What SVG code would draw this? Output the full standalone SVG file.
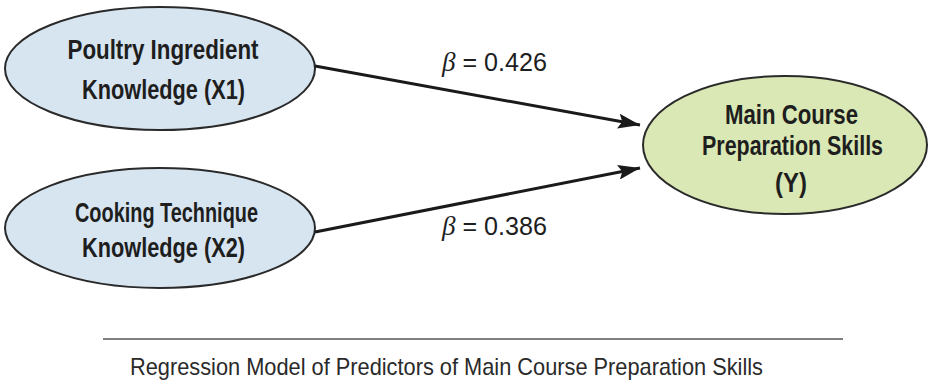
<svg xmlns="http://www.w3.org/2000/svg" width="929" height="385" viewBox="0 0 929 385">
<defs>
<marker id="ah" viewBox="0 0 22 15" refX="22" refY="7.5" markerWidth="22" markerHeight="15" markerUnits="userSpaceOnUse" orient="auto">
<path d="M0,0 L22,7.5 L0,15 L4,7.5 Z" fill="#1a1a1a"/>
</marker>
<style>
.pred{fill:#d7e5f1;stroke:#2a2a2a;stroke-width:2}
.out{fill:#d9e8b4;stroke:#2a2a2a;stroke-width:2}
.lbl{font-family:"Liberation Sans",Arial,sans-serif;font-weight:bold;font-size:27px;fill:#1e1e1e;text-anchor:middle}
.beta{font-family:"Liberation Sans",Arial,sans-serif;font-size:25px;fill:#1e1e1e}
.b{font-family:"Liberation Serif","Times New Roman",serif;font-style:italic;font-size:27px}
.edge{stroke:#1a1a1a;stroke-width:3;fill:none}
.cap{font-family:"Liberation Sans",Arial,sans-serif;font-size:24px;fill:#2a2a2a}
</style>
</defs>
<g id="x1">
<ellipse class="pred" cx="160" cy="68.5" rx="155" ry="61.5"/>
<text class="lbl" x="163" y="59" textLength="191" lengthAdjust="spacingAndGlyphs">Poultry Ingredient</text>
<text class="lbl" x="163.5" y="99" textLength="163" lengthAdjust="spacingAndGlyphs">Knowledge (X1)</text>
</g>
<g id="x2">
<ellipse class="pred" cx="160" cy="228" rx="155" ry="60"/>
<text class="lbl" x="166.5" y="222" textLength="183" lengthAdjust="spacingAndGlyphs">Cooking Technique</text>
<text class="lbl" x="163.5" y="257" textLength="163" lengthAdjust="spacingAndGlyphs">Knowledge (X2)</text>
</g>
<g id="y">
<ellipse class="out" cx="785" cy="145" rx="142" ry="69"/>
<text class="lbl" x="791.5" y="124" textLength="133" lengthAdjust="spacingAndGlyphs">Main Course</text>
<text class="lbl" x="792.5" y="155" textLength="181" lengthAdjust="spacingAndGlyphs">Preparation Skills</text>
<text class="lbl" x="791" y="192" textLength="32" lengthAdjust="spacingAndGlyphs">(Y)</text>
</g>
<g id="connectors">
<line class="edge" x1="315" y1="66" x2="640" y2="125" marker-end="url(#ah)"/>
<line class="edge" x1="315" y1="232" x2="640" y2="168" marker-end="url(#ah)"/>
<text class="beta" x="442" y="71" textLength="105" lengthAdjust="spacingAndGlyphs"><tspan class="b">β</tspan> = 0.426</text>
<text class="beta" x="442" y="235" textLength="105" lengthAdjust="spacingAndGlyphs"><tspan class="b">β</tspan> = 0.386</text>
</g>
<g id="caption">
<line x1="103" y1="339" x2="843" y2="339" stroke="#555" stroke-width="1.5"/>
<text class="cap" x="130" y="375" textLength="633" lengthAdjust="spacingAndGlyphs">Regression Model of Predictors of Main Course Preparation Skills</text>
</g>
</svg>
